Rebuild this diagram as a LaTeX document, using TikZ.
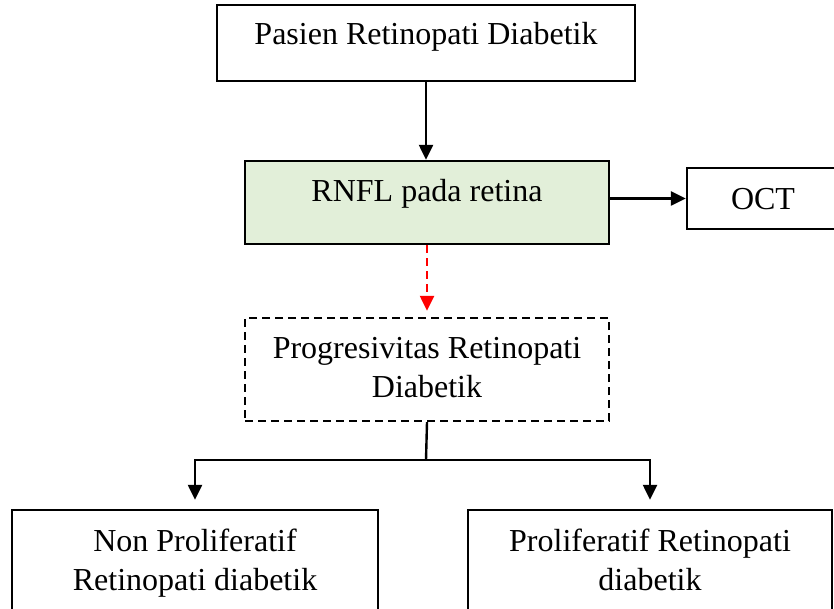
\documentclass[tikz,border=0pt]{standalone}
\usepackage{fontspec}
\setmainfont{Liberation Serif}
\usetikzlibrary{arrows.meta}
\definecolor{boxgreen}{HTML}{E2EFD9}
\begin{document}
\begin{tikzpicture}[x=1pt,y=-1pt,
  frame/.style={draw=black,line width=2.4pt,inner sep=0pt},
  txt/.style={font=\fontsize{32}{39}\selectfont,inner sep=0pt,anchor=base,align=center},
  arr/.style={line width=2.4pt,-{Triangle[width=14pt,length=15pt]}},
  conn/.style={line width=2.4pt}]
\useasboundingbox (0,0) rectangle (834,609);
\clip (0,0) rectangle (834,609);
\fill[white] (0,0) rectangle (834,609);
% boxes
\node[frame, minimum width=418pt, minimum height=76pt] (pasien) at (426,43) {};
\node[frame, fill=boxgreen, minimum width=364pt, minimum height=83pt] (rnfl) at (427,202.5) {};
\node[frame, minimum width=213pt, minimum height=61pt] (oct) at (793.5,198.5) {};
\node[frame, dash pattern=on 8pt off 5pt, minimum width=364pt, minimum height=103pt] (prog) at (427,369.5) {};
\node[frame, minimum width=366pt, minimum height=140pt] (npdr) at (195,580) {};
\node[frame, minimum width=364pt, minimum height=140pt] (pdr) at (650,580) {};
% texts (base anchor = baseline of the last line)
\node[txt] (t1) at (426,45) {Pasien Retinopati Diabetik};
\node[txt] (t2) at (427,202) {RNFL pada retina};
\node[txt] (t3) at (763,210) {OCT};
\node[txt] (t4) at (427,397) {Progresivitas Retinopati\\Diabetik};
\node[txt] (t5) at (195,590) {Non Proliferatif\\Retinopati diabetik};
\node[txt] (t6) at (650,590) {Proliferatif Retinopati\\diabetik};
% connectors
\draw[arr] (pasien.south) -- (pasien.south |- rnfl.north);
\draw[arr] (rnfl.east |- oct.west) -- (oct.west);
\draw[arr, draw=red, dash pattern=on 8pt off 5pt, shorten >=6pt] (rnfl.south) -- (prog.north);
\coordinate (split) at (426,460);
\draw[conn] (prog.south) -- (split);
\draw[arr, shorten >=9pt] (split) -| (npdr.north);
\draw[arr, shorten >=9pt] (split) -| (pdr.north);
\end{tikzpicture}
\end{document}
